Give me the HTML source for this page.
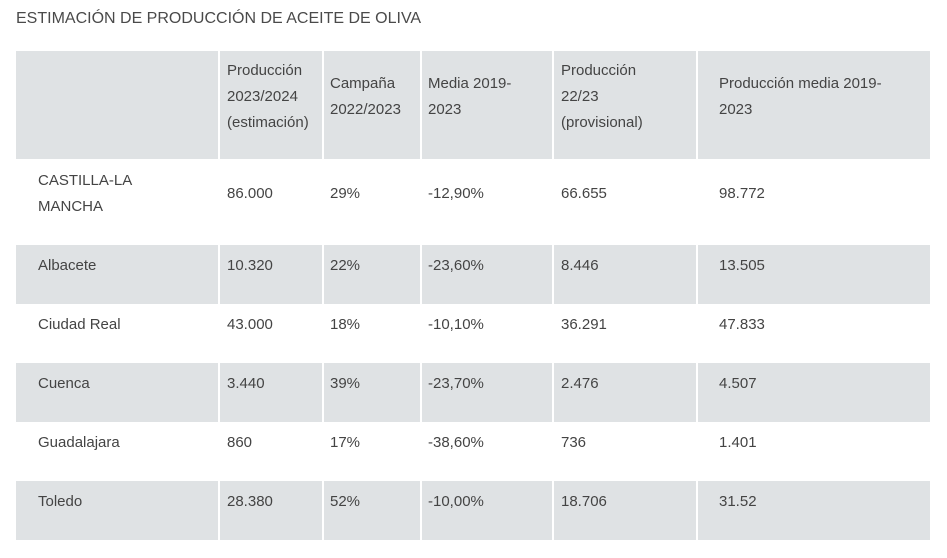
<!DOCTYPE html>
<html><head><meta charset="utf-8"><style>
body{margin:0;width:947px;height:558px;background:#fff;position:relative;overflow:hidden;font-family:"Liberation Sans",sans-serif;color:#444;font-size:15px}
.t{position:absolute;left:16px;top:10px;font-size:16px;color:#4a4a4a}
.bg{position:absolute;background:#dfe2e4}
.vl{position:absolute;width:2px;background:#fff}
.c{position:absolute;line-height:26px;white-space:nowrap}
</style></head><body>
<div class="t">ESTIMACIÓN DE PRODUCCIÓN DE ACEITE DE OLIVA</div>
<div id="tbl"></div>
<script>
const tbl=document.getElementById('tbl');
const colX=[16,219,323,421,553,697,930];
const textX=[38,227,330,428,561,719];
const headers=[[],["Producción","2023/2024","(estimación)"],["Campaña","2022/2023"],["Media 2019-","2023"],["Producción","22/23","(provisional)"],["Producción media 2019-","2023"]];
const rows=[
[["CASTILLA-LA","MANCHA"],"86.000","29%","-12,90%","66.655","98.772"],
["Albacete","10.320","22%","-23,60%","8.446","13.505"],
["Ciudad Real","43.000","18%","-10,10%","36.291","47.833"],
["Cuenca","3.440","39%","-23,70%","2.476","4.507"],
["Guadalajara","860","17%","-38,60%","736","1.401"],
["Toledo","28.380","52%","-10,00%","18.706","31.52"]];
const rowTop=[159,245,304,363,422,481];
const rowH=[86,59,59,59,59,59];
function bg(y,h,name){
 const d=document.createElement('div');d.className='bg';
 
 
 d.style.left='16px';d.style.top=y+'px';d.style.width='914px';d.style.height=h+'px';tbl.appendChild(d);
 for(let i=1;i<6;i++){const v=document.createElement('div');v.className='vl';
 
 
 v.style.left=(colX[i]-1)+'px';v.style.top=y+'px';v.style.height=h+'px';tbl.appendChild(v);}
}
function cell(x,y,lines,name){
 const d=document.createElement('div');d.className='c';
 
 
 d.style.left=x+'px';d.style.top=y+'px';d.innerHTML=lines.join('<br>');tbl.appendChild(d);
}
bg(51,108,'header-row');
headers.forEach((h,i)=>{if(!h.length)return;cell(textX[i],97-13*h.length,h,'header-cell');});
rows.forEach((r,ri)=>{
 if(ri%2===1)bg(rowTop[ri],rowH[ri],'row-background');
 r.forEach((v,ci)=>{
  const lines=Array.isArray(v)?v:[v];
  const y=ri===0?(lines.length===2?168:181):rowTop[ri]+8;
  cell(textX[ci],y,lines,ci===0?'region-name':'data-cell');
 });
});
</script>
</body></html>
